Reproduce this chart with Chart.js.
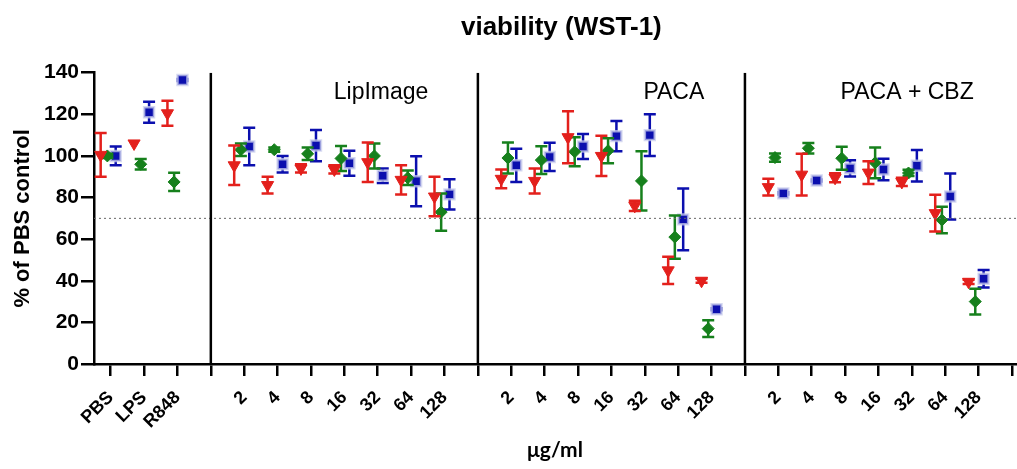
<!DOCTYPE html>
<html>
<head>
<meta charset="utf-8">
<title>viability (WST-1)</title>
<script src="https://cdn.jsdelivr.net/npm/chart.js@4"></script>
<style>
  html, body { margin: 0; padding: 0; background: #fff; }
  #wrap { width: 1017px; height: 469px; position: relative; }
</style>
</head>
<body>
<div id="wrap"><canvas id="chart"></canvas></div>
<script>
// x axis slots: labels for every tick (blank = panel divider)
const tickLabels = ['PBS', 'LPS', 'R848', '',
  '2', '4', '8', '16', '32', '64', '128', '',
  '2', '4', '8', '16', '32', '64', '128', '',
  '2', '4', '8', '16', '32', '64', '128', ''];
// slot of each measured condition
const conditionSlots = [0, 1, 2, 4, 5, 6, 7, 8, 9, 10, 12, 13, 14, 15, 16, 17, 18, 20, 21, 22, 23, 24, 25, 26];
const dividerSlots = [3, 11, 19];
const panelNames = ['LipImage', 'PACA', 'PACA + CBZ'];
const thresholdValue = 70;
const yTicks = [0, 20, 40, 60, 80, 100, 120, 140];

// mean and SD per condition (PBS, LPS, R848, LipImage 2..128, PACA 2..128, PACA+CBZ 2..128)
const redMean = [100.5, 106, 120.5, 95.5, 86, 94, 93.5, 97, 88.5, 80.5, 89, 88, 109, 100, 76, 45, 40, 85, 91, 89.5, 92, 87.5, 72.5, 39.5];
const redErr = [10.5, 0, 6, 9.5, 4, 2, 2, 9.5, 7, 9.5, 4.5, 6, 12.5, 9.7, 2.5, 6.5, 1, 4, 10, 2.2, 5.5, 2, 8.8, 1];
const greenMean = [100, 96, 87.5, 103, 103, 101, 98.8, 100, 89.5, 73, 99, 98, 102, 102.5, 88, 61, 17, 99.2, 103.7, 98.9, 96.7, 91.8, 69.2, 30];
const greenErr = [1, 2.5, 4.4, 3, 1, 3, 6, 6, 3.5, 9, 7.5, 6.7, 7, 6, 14.2, 10.4, 4, 2, 2.5, 5.5, 7.4, 1.5, 6.4, 6.2];
const blueMean = [100, 121, 136.5, 104.5, 96, 105, 96.5, 90.5, 87.8, 81.5, 95.5, 99.5, 104.5, 109.5, 110, 69.5, 26.3, 82, 88.2, 94, 93.5, 95.3, 80.5, 41];
const blueErr = [4.5, 5, 0.5, 9, 4, 7.5, 6, 3.5, 12, 7.3, 8, 6.8, 6, 7.3, 10, 14.8, 0.5, 0.5, 0.5, 3.9, 5.2, 7.6, 11, 4.2];

const FONT = "'Liberation Sans', Arial, sans-serif";

const series = [
  { mean: redMean, err: redErr, color: '#e3201c', offset: -0.3,
    point: { pointStyle: 'triangle', rotation: 180, pointRadius: 7, backgroundColor: '#e3201c', borderColor: '#e3201c', borderWidth: 1 } },
  { mean: greenMean, err: greenErr, color: '#16801c', offset: -0.1,
    point: { pointStyle: 'rectRot', pointRadius: 6, backgroundColor: '#16801c', borderColor: '#16801c', borderWidth: 1 } },
  { mean: blueMean, err: blueErr, color: '#0b0fae', offset: 0.15,
    point: { pointStyle: 'rect', pointRadius: 7, backgroundColor: '#0b0fae', borderColor: 'rgba(200,204,236,0.75)', borderWidth: 2.5 } }
];

const datasets = [];

// panel dividers
dividerSlots.forEach(s => {
  datasets.push({
    type: 'line',
    data: [{ x: s, y: 0 }, { x: s, y: 140 }],
    borderColor: '#000',
    borderWidth: 2.5,
    pointRadius: 0,
    showLine: true
  });
});

// 70% reference line
datasets.push({
  type: 'line',
  data: [{ x: -0.5, y: thresholdValue }, { x: 28, y: thresholdValue }],
  borderColor: '#666',
  borderWidth: 1,
  borderDash: [2, 3],
  pointRadius: 0,
  showLine: true
});

const firstSeries = datasets.length;
series.forEach(s => {
  datasets.push(Object.assign({
    data: s.mean.map((m, i) => ({ x: conditionSlots[i] + s.offset, y: m })),
    showLine: false
  }, s.point));
});

// title, panel names and error bars
const extras = {
  id: 'extras',
  beforeDatasetDraw(chart, args) {
    const k = args.index - firstSeries;
    if (k < 0) return;
    const s = series[k];
    const xs = chart.scales.x, ys = chart.scales.y;
    const ctx = chart.ctx;
    ctx.save();
    ctx.strokeStyle = s.color;
    ctx.lineWidth = 2.5;
    s.mean.forEach((m, i) => {
      if (!s.err[i]) return;
      const px = xs.getPixelForValue(conditionSlots[i] + s.offset);
      const top = ys.getPixelForValue(m + s.err[i]);
      const bot = ys.getPixelForValue(m - s.err[i]);
      ctx.beginPath();
      ctx.moveTo(px, top); ctx.lineTo(px, bot);
      ctx.moveTo(px - 6, top); ctx.lineTo(px + 6, top);
      ctx.moveTo(px - 6, bot); ctx.lineTo(px + 6, bot);
      ctx.stroke();
    });
    ctx.restore();
  },
  afterDraw(chart) {
    const xs = chart.scales.x, ys = chart.scales.y;
    const ctx = chart.ctx;
    ctx.save();
    ctx.fillStyle = '#000';
    ctx.textAlign = 'center';
    ctx.textBaseline = 'middle';
    ctx.font = 'bold 26px ' + FONT;
    ctx.fillText('viability (WST-1)', xs.getPixelForValue(13.5), 28);
    ctx.font = '23px ' + FONT;
    const labelX = [8.1, 16.87, 23.86];
    panelNames.forEach((name, i) => {
      ctx.fillText(name, xs.getPixelForValue(labelX[i]), ys.getPixelForValue(130.2));
    });
    ctx.restore();
  }
};

new Chart(document.getElementById('chart'), {
  type: 'scatter',
  data: { datasets },
  options: {
    responsive: true,
    maintainAspectRatio: false,
    animation: false,
    layout: { autoPadding: false, padding: { top: 72.7, right: 1, left: 0, bottom: 0 } },
    plugins: {
      legend: { display: false },
      tooltip: { enabled: false },
      title: { display: false }
    },
    scales: {
      x: {
        type: 'linear',
        min: -0.5,
        max: 27.12,
        afterFit: s => { s.height = 105; s.paddingLeft = 0; s.paddingRight = 0; },
        afterBuildTicks: s => { s.ticks = tickLabels.map((_, i) => ({ value: i })); },
        grid: { drawOnChartArea: false, drawTicks: true, tickLength: 12, color: '#000', lineWidth: 2.5 },
        border: { color: '#000', width: 2.5 },
        ticks: {
          autoSkip: false,
          minRotation: 45,
          maxRotation: 45,
          padding: 11,
          color: '#000',
          font: { family: FONT, size: 18, weight: 'bold' },
          callback: v => tickLabels[v] ?? ''
        },
        title: {
          display: true,
          text: 'μg/ml',
          color: '#000',
          font: { family: "Lato, 'Open Sans', sans-serif", size: 21, weight: 'bold' },
          padding: { top: 0, bottom: 6 }
        }
      },
      y: {
        min: 0,
        max: 140,
        afterFit: s => { s.width = 94; s.paddingTop = 0; s.paddingBottom = 0; },
        afterBuildTicks: s => { s.ticks = yTicks.map(v => ({ value: v })); },
        grid: { drawOnChartArea: false, drawTicks: true, tickLength: 13, color: '#000', lineWidth: 2.5 },
        border: { color: '#000', width: 2.5 },
        ticks: {
          padding: 2,
          color: '#000',
          font: { family: FONT, size: 21, weight: 'bold' }
        },
        title: {
          display: true,
          text: '% of PBS control',
          color: '#000',
          font: { family: FONT, size: 22, weight: 'bold' },
          padding: { top: 10, bottom: 0 }
        }
      }
    }
  },
  plugins: [extras]
});
</script>
</body>
</html>
